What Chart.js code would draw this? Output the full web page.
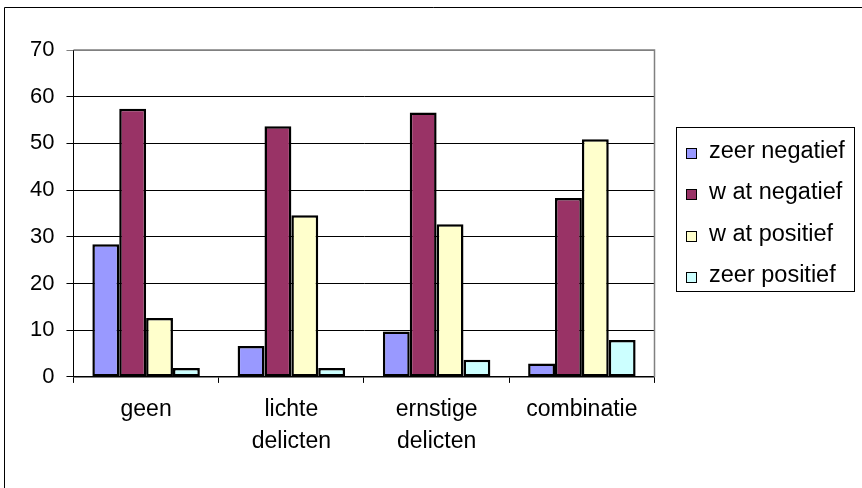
<!DOCTYPE html>
<html><head><meta charset="utf-8">
<script src="https://cdn.jsdelivr.net/npm/chart.js@4/dist/chart.umd.min.js"></script>
<style>html,body{margin:0;padding:0;background:#fff;overflow:hidden}canvas{display:block}</style>
</head><body>
<canvas id="c" width="862" height="488"></canvas>
<script>
const categories = [["geen"], ["lichte", "delicten"], ["ernstige", "delicten"], ["combinatie"]];
const seriesNames = ["zeer negatief", "w at negatief", "w at positief", "zeer positief"];
const zeerNegatief = [28.4, 6.6, 9.7, 2.9];
const watNegatief = [57.4, 53.7, 56.6, 38.3];
const watPositief = [12.6, 34.6, 32.7, 50.9];
const zeerPositief = [1.9, 1.9, 3.7, 7.9];
const yTickValues = [0, 10, 20, 30, 40, 50, 60, 70];

const FONT = '"Liberation Sans", Arial, sans-serif';

const framePlugin = {
  id: 'frame',
  beforeDraw(chart) {
    const c = chart.ctx;
    c.save(); c.fillStyle = '#fff'; c.fillRect(0, 0, chart.width, chart.height); c.restore();
  },
  afterDraw(chart) {
    const c = chart.ctx, a = chart.chartArea;
    c.save();
    // plot area top/right border (gray)
    c.strokeStyle = '#808080'; c.lineWidth = 1.5;
    c.beginPath(); c.moveTo(a.left, a.top); c.lineTo(a.right, a.top); c.lineTo(a.right, a.bottom); c.stroke();
    // outer chart border (left + top visible)
    c.strokeStyle = '#000'; c.lineWidth = 1;
    c.beginPath(); c.moveTo(4.5, 488); c.lineTo(4.5, 7.5); c.lineTo(862, 7.5); c.stroke();
    // legend
    c.strokeRect(676.5, 127.5, 178, 164);
    c.font = '23.5px ' + FONT;
    c.textBaseline = 'alphabetic'; c.textAlign = 'left';
    chart.data.datasets.forEach((ds, i) => {
      const b = Math.round(158 + i * 41.3);
      c.fillStyle = ds.backgroundColor;
      c.fillRect(686, b - 10, 10, 10);
      c.strokeStyle = '#000'; c.lineWidth = 1;
      c.strokeRect(686.5, b - 9.5, 10, 10);
      c.fillStyle = '#000';
      c.fillText(ds.label, 709, b);
    });
    c.restore();
  }
};

new Chart(document.getElementById('c'), {
  type: 'bar',
  data: {
    labels: categories,
    datasets: [
      { label: seriesNames[0], data: zeerNegatief, backgroundColor: '#9999FF' },
      { label: seriesNames[1], data: watNegatief, backgroundColor: '#993366' },
      { label: seriesNames[2], data: watPositief, backgroundColor: '#FFFFCC' },
      { label: seriesNames[3], data: zeerPositief, backgroundColor: '#CCFFFF' }
    ].map(d => Object.assign(d, { borderColor: '#000', borderWidth: 2.5, borderSkipped: false,
      categoryPercentage: 0.74, barPercentage: 1.0 }))
  },
  options: {
    responsive: false,
    animation: false,
    devicePixelRatio: 1,
    layout: { padding: { left: 18, right: 207.5, top: 50, bottom: 19.6 } },
    plugins: { legend: { display: false }, tooltip: { enabled: false } },
    scales: {
      x: {
        grid: { display: true, drawOnChartArea: false, drawTicks: true, tickLength: 6, offset: true, color: '#000', lineWidth: 1 },
        border: { display: true, color: '#000', width: 1.5 },
        ticks: { color: '#000', padding: 11, maxRotation: 0, autoSkip: false,
          font: { family: FONT, size: 23, lineHeight: 1.38 } }
      },
      y: {
        min: 0, max: 70,
        afterBuildTicks(axis) { axis.ticks = yTickValues.map(v => ({ value: v })); },
        grid: { color: ctx => (ctx.tick && ctx.tick.value === 70) ? '#808080' : '#000', lineWidth: 1, drawTicks: true, tickLength: 7 },
        border: { display: true, color: '#000', width: 1 },
        ticks: { color: '#000', padding: 12, font: { family: FONT, size: 22 } }
      }
    }
  },
  plugins: [framePlugin]
});
</script>
</body></html>
